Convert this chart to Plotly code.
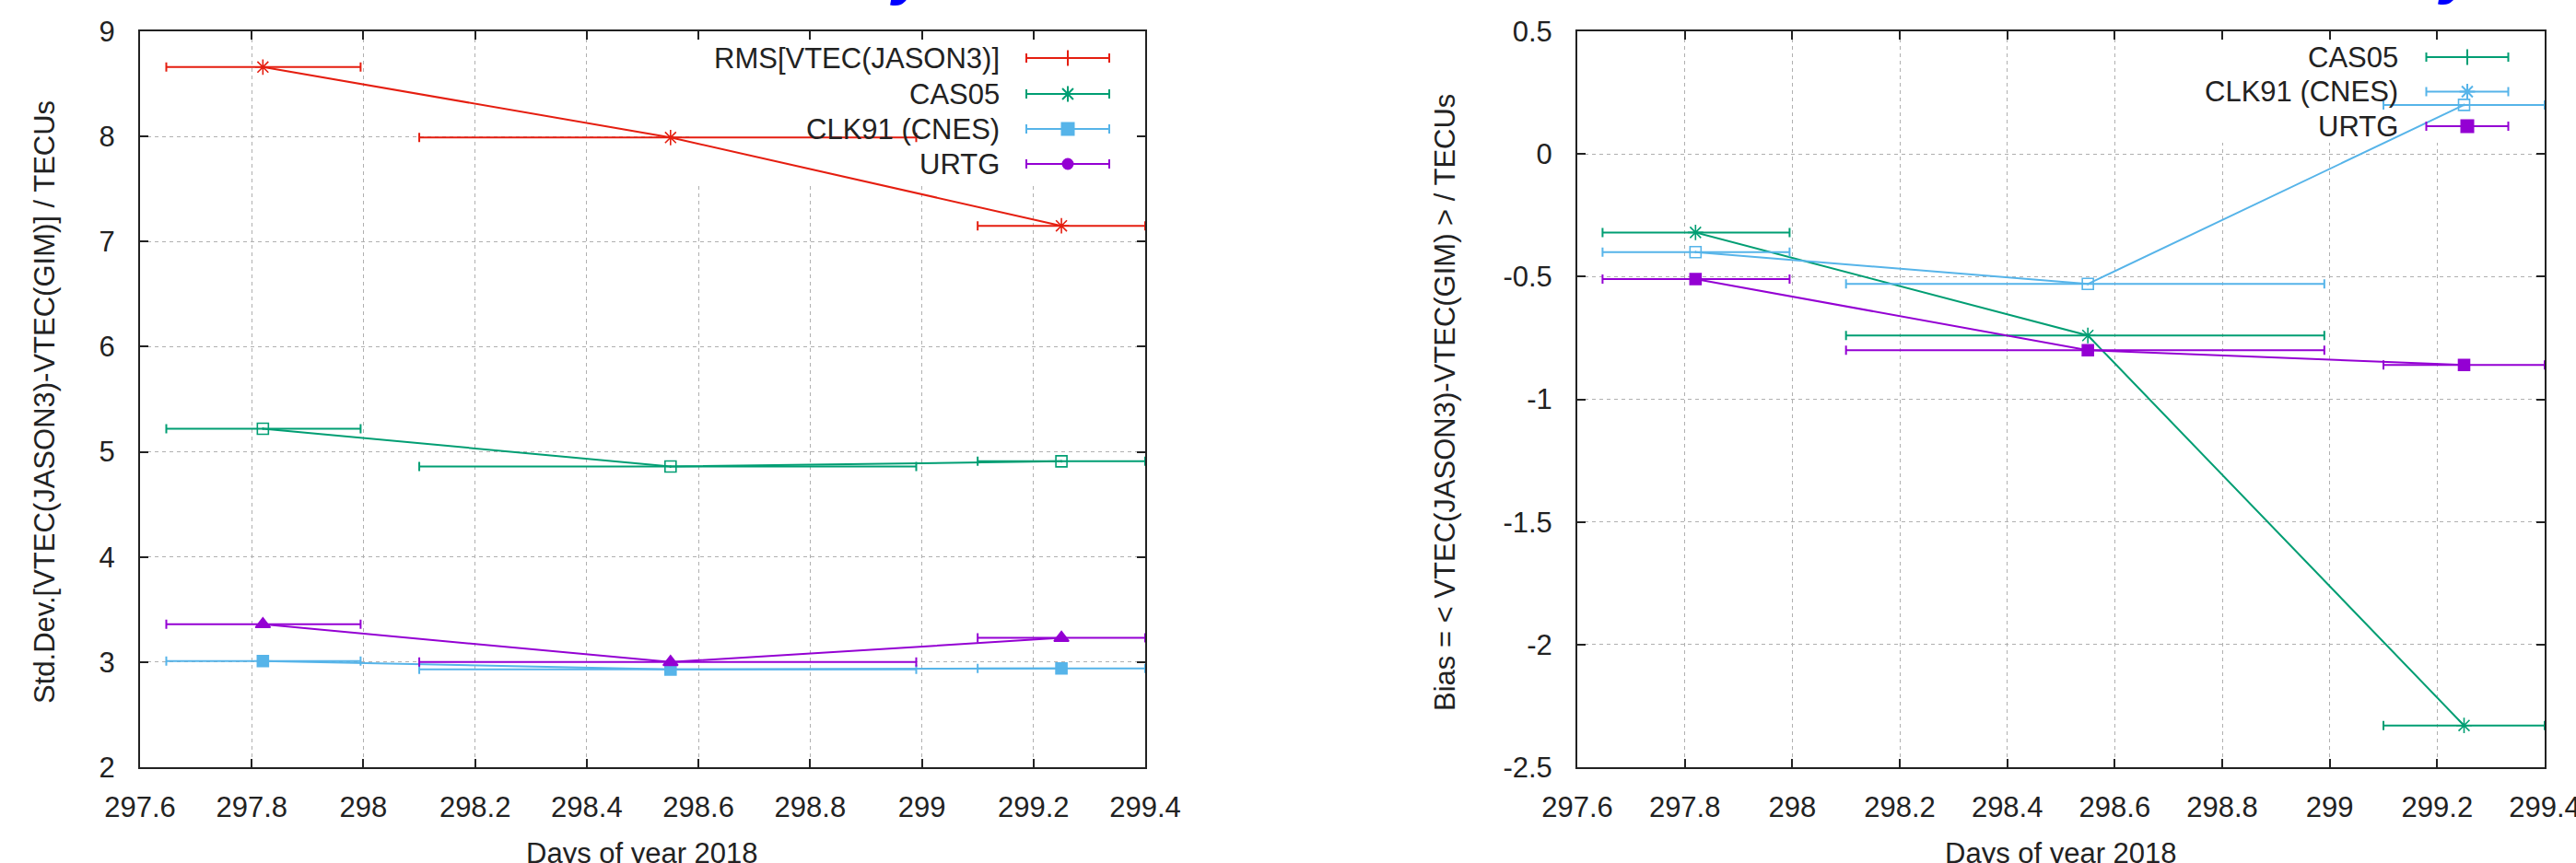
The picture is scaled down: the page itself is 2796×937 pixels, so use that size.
import plotly.graph_objects as go

# ---------------- data ----------------
days = [297.82, 298.55, 299.25]
window_start = [297.647, 298.10, 299.10]
window_end = [297.995, 298.99, 299.40]

rms_jason3 = [8.66, 7.99, 7.15]
std_cas05 = [5.22, 4.86, 4.91]
std_clk91 = [3.01, 2.93, 2.94]
std_urtg = [3.36, 3.00, 3.23]

bias_cas05 = [-0.32, -0.74, -2.33]
bias_clk91 = [-0.40, -0.53, 0.20]
bias_urtg = [-0.51, -0.80, -0.86]

x_tick_vals = [297.6, 297.8, 298.0, 298.2, 298.4, 298.6, 298.8, 299.0, 299.2, 299.4]
x_tick_text = ["297.6", "297.8", "298", "298.2", "298.4", "298.6", "298.8", "299", "299.2", "299.4"]
std_tick_vals = [2, 3, 4, 5, 6, 7, 8, 9]
std_tick_text = ["2", "3", "4", "5", "6", "7", "8", "9"]
bias_tick_vals = [-2.5, -2, -1.5, -1, -0.5, 0, 0.5]
bias_tick_text = ["-2.5", "-2", "-1.5", "-1", "-0.5", "0", "0.5"]

left_legend = ["RMS[VTEC(JASON3)]", "CAS05", "CLK91 (CNES)", "URTG"]
right_legend = ["CAS05", "CLK91 (CNES)", "URTG"]

# ---------------- style ----------------
RED = "#e51e10"
GREEN = "#009e73"
BLUE = "#56b4e9"
PURPLE = "#9400d3"
INK = "#222222"
FONT = "Liberation Sans, Arial, sans-serif"
FS = 31

W, H = 2796, 937
ML, MR, MT, MB = 152, 34, 34, 104
PW = W - ML - MR
PH = H - MT - MB
L_X1 = 1243
R_X0 = 1712

err_plus = [e - d for d, e in zip(days, window_end)]
err_minus = [d - s for d, s in zip(days, window_start)]

fig = go.Figure()


# white key backgrounds (drawn first: above the grid, below the data)
def key_box(xa, ya, x0, x1, y0, y1):
    fig.add_trace(go.Scatter(
        x=[x0, x1, x1, x0, x0], y=[y0, y0, y1, y1, y0], xaxis=xa, yaxis=ya,
        mode="lines", fill="toself", fillcolor="white", line=dict(width=0, color="white"),
        showlegend=False, hoverinfo="skip"))


def add_series(xa, ya, yvals, color, symbol, size, lw=1.6):
    fig.add_trace(go.Scatter(
        x=days, y=yvals, xaxis=xa, yaxis=ya, mode="lines+markers",
        line=dict(color=color, width=2),
        marker=dict(symbol=symbol, size=size, color=color,
                    line=dict(color=color, width=lw)),
        error_x=dict(type="data", symmetric=False, array=err_plus,
                     arrayminus=err_minus, color=color, thickness=2, width=5),
        showlegend=False, hoverinfo="skip"))


def to_data_x(p, x0p, x1p, lo, hi):
    return lo + (p - x0p) / (x1p - x0p) * (hi - lo)


def to_data_y(p, lo, hi):
    return lo + (H - MB - p) / PH * (hi - lo)


key_box("x", "y", to_data_x(750, ML, L_X1, 297.6, 299.4), 299.4, to_data_y(199, 2, 9), 9)
key_box("x2", "y2", to_data_x(2385, R_X0, W - MR, 297.6, 299.4), 299.4, to_data_y(155, -2.5, 0.5), 0.5)

# left panel
add_series("x", "y", rms_jason3, RED, "asterisk-open", 14)
add_series("x", "y", std_cas05, GREEN, "square-open-dot", 12)
add_series("x", "y", std_clk91, BLUE, "square", 12)
add_series("x", "y", std_urtg, PURPLE, "triangle-up", 14)

# right panel
add_series("x2", "y2", bias_cas05, GREEN, "asterisk-open", 14)
add_series("x2", "y2", bias_clk91, BLUE, "square-open-dot", 12)
add_series("x2", "y2", bias_urtg, PURPLE, "square", 12)


# ---------------- gnuplot-like keys (overlay axes in pixel units) ----------------
def legend_sample(xa, ya, cx, cy, half, color, symbol, size):
    fig.add_trace(go.Scatter(
        x=[cx], y=[cy], xaxis=xa, yaxis=ya, mode="markers",
        marker=dict(symbol=symbol, size=size, color=color,
                    line=dict(color=color, width=2)),
        error_x=dict(type="constant", value=half, color=color, thickness=2, width=5),
        showlegend=False, hoverinfo="skip", cliponaxis=False))


annotations = []
left_rows = [63, 102, 140, 178]
left_syms = [("line-ns-open", 12, RED), ("asterisk-open", 14, GREEN),
             ("square", 13, BLUE), ("circle", 11, PURPLE)]
for name, row, (sym, sz, col) in zip(left_legend, left_rows, left_syms):
    legend_sample("x3", "y3", 1159, row, 45, col, sym, sz)
    annotations.append(dict(x=1087, y=row, xref="x3", yref="y3", text=name,
                            showarrow=False, xanchor="right", yanchor="middle",
                            font=dict(family=FONT, size=FS, color=INK)))

right_rows = [62, 99.5, 137]
right_syms = [("line-ns-open", 12, GREEN), ("asterisk-open", 14, BLUE),
              ("square", 13, PURPLE)]
for name, row, (sym, sz, col) in zip(right_legend, right_rows, right_syms):
    legend_sample("x4", "y4", 2678, row, 44.5, col, sym, sz)
    annotations.append(dict(x=2605, y=row, xref="x4", yref="y4", text=name,
                            showarrow=False, xanchor="right", yanchor="middle",
                            font=dict(family=FONT, size=FS, color=INK)))


def px_x(p):
    return (p - ML) / PW


def px_y(p):
    return (H - MB - p) / PH


# axis titles
annotations.append(dict(x=px_x(48), y=px_y(437), xref="paper", yref="paper",
                        text="Std.Dev.[VTEC(JASON3)-VTEC(GIM)] / TECUs", textangle=-90,
                        showarrow=False, xanchor="center", yanchor="middle",
                        font=dict(family=FONT, size=FS, color=INK)))
annotations.append(dict(x=px_x(1568), y=px_y(437), xref="paper", yref="paper",
                        text="Bias = < VTEC(JASON3)-VTEC(GIM) > / TECUs", textangle=-90,
                        showarrow=False, xanchor="center", yanchor="middle",
                        font=dict(family=FONT, size=FS, color=INK)))
for cx in (697, 2237):
    annotations.append(dict(x=px_x(cx), y=px_y(907), xref="paper", yref="paper",
                            text="Days of year 2018", showarrow=False,
                            xanchor="center", yanchor="top",
                            font=dict(family=FONT, size=FS, color=INK)))

# fragments of the slide title above the picture
for txt, cx, bottom in (("y", 988, 8), (",", 1036, 6), ("y", 2668, 7)):
    annotations.append(dict(x=px_x(cx), y=px_y(bottom), xref="paper", yref="paper",
                            text="<b><i>" + txt + "</i></b>", showarrow=False,
                            xanchor="center", yanchor="bottom",
                            font=dict(family=FONT, size=70, color="#0000ff")))

axis_common = dict(
    showline=True, linecolor=INK, linewidth=2, mirror="ticks",
    ticks="inside", ticklen=9, tickwidth=2, tickcolor=INK,
    showgrid=True, gridcolor="#b0b0b0", gridwidth=1, griddash="4px,4px",
    zeroline=False, tickfont=dict(family=FONT, size=FS, color=INK),
    fixedrange=True, tickmode="array", automargin=False, ticklabeloverflow="allow",
)

xdom_left = [0, (L_X1 - ML) / PW]
xdom_right = [(R_X0 - ML) / PW, 1]

fig.update_layout(
    width=W, height=H,
    margin=dict(l=ML, r=MR, t=MT, b=MB, pad=0, autoexpand=False),
    paper_bgcolor="white", plot_bgcolor="white",
    showlegend=False,
    xaxis=dict(axis_common, domain=xdom_left, range=[297.6, 299.4],
               tickvals=x_tick_vals, ticktext=x_tick_text, ticklabelstandoff=15, anchor="y"),
    yaxis=dict(axis_common, range=[2, 9], tickvals=std_tick_vals, ticktext=std_tick_text,
               ticklabelstandoff=19, anchor="x"),
    xaxis2=dict(axis_common, domain=xdom_right, range=[297.6, 299.4],
                tickvals=x_tick_vals, ticktext=x_tick_text, ticklabelstandoff=15, anchor="y2"),
    yaxis2=dict(axis_common, range=[-2.5, 0.5], tickvals=bias_tick_vals, ticktext=bias_tick_text,
                ticklabelstandoff=19, anchor="x2"),
    xaxis3=dict(overlaying="x", range=[ML, L_X1], visible=False, fixedrange=True,
                anchor="y3", automargin=False),
    yaxis3=dict(overlaying="y", range=[H - MB, MT], visible=False, fixedrange=True,
                anchor="x3", automargin=False),
    xaxis4=dict(overlaying="x2", range=[R_X0, W - MR], visible=False, fixedrange=True,
                anchor="y4", automargin=False),
    yaxis4=dict(overlaying="y2", range=[H - MB, MT], visible=False, fixedrange=True,
                anchor="x4", automargin=False),
    annotations=annotations,
)

fig.write_html("out.html", config={"displayModeBar": False})
